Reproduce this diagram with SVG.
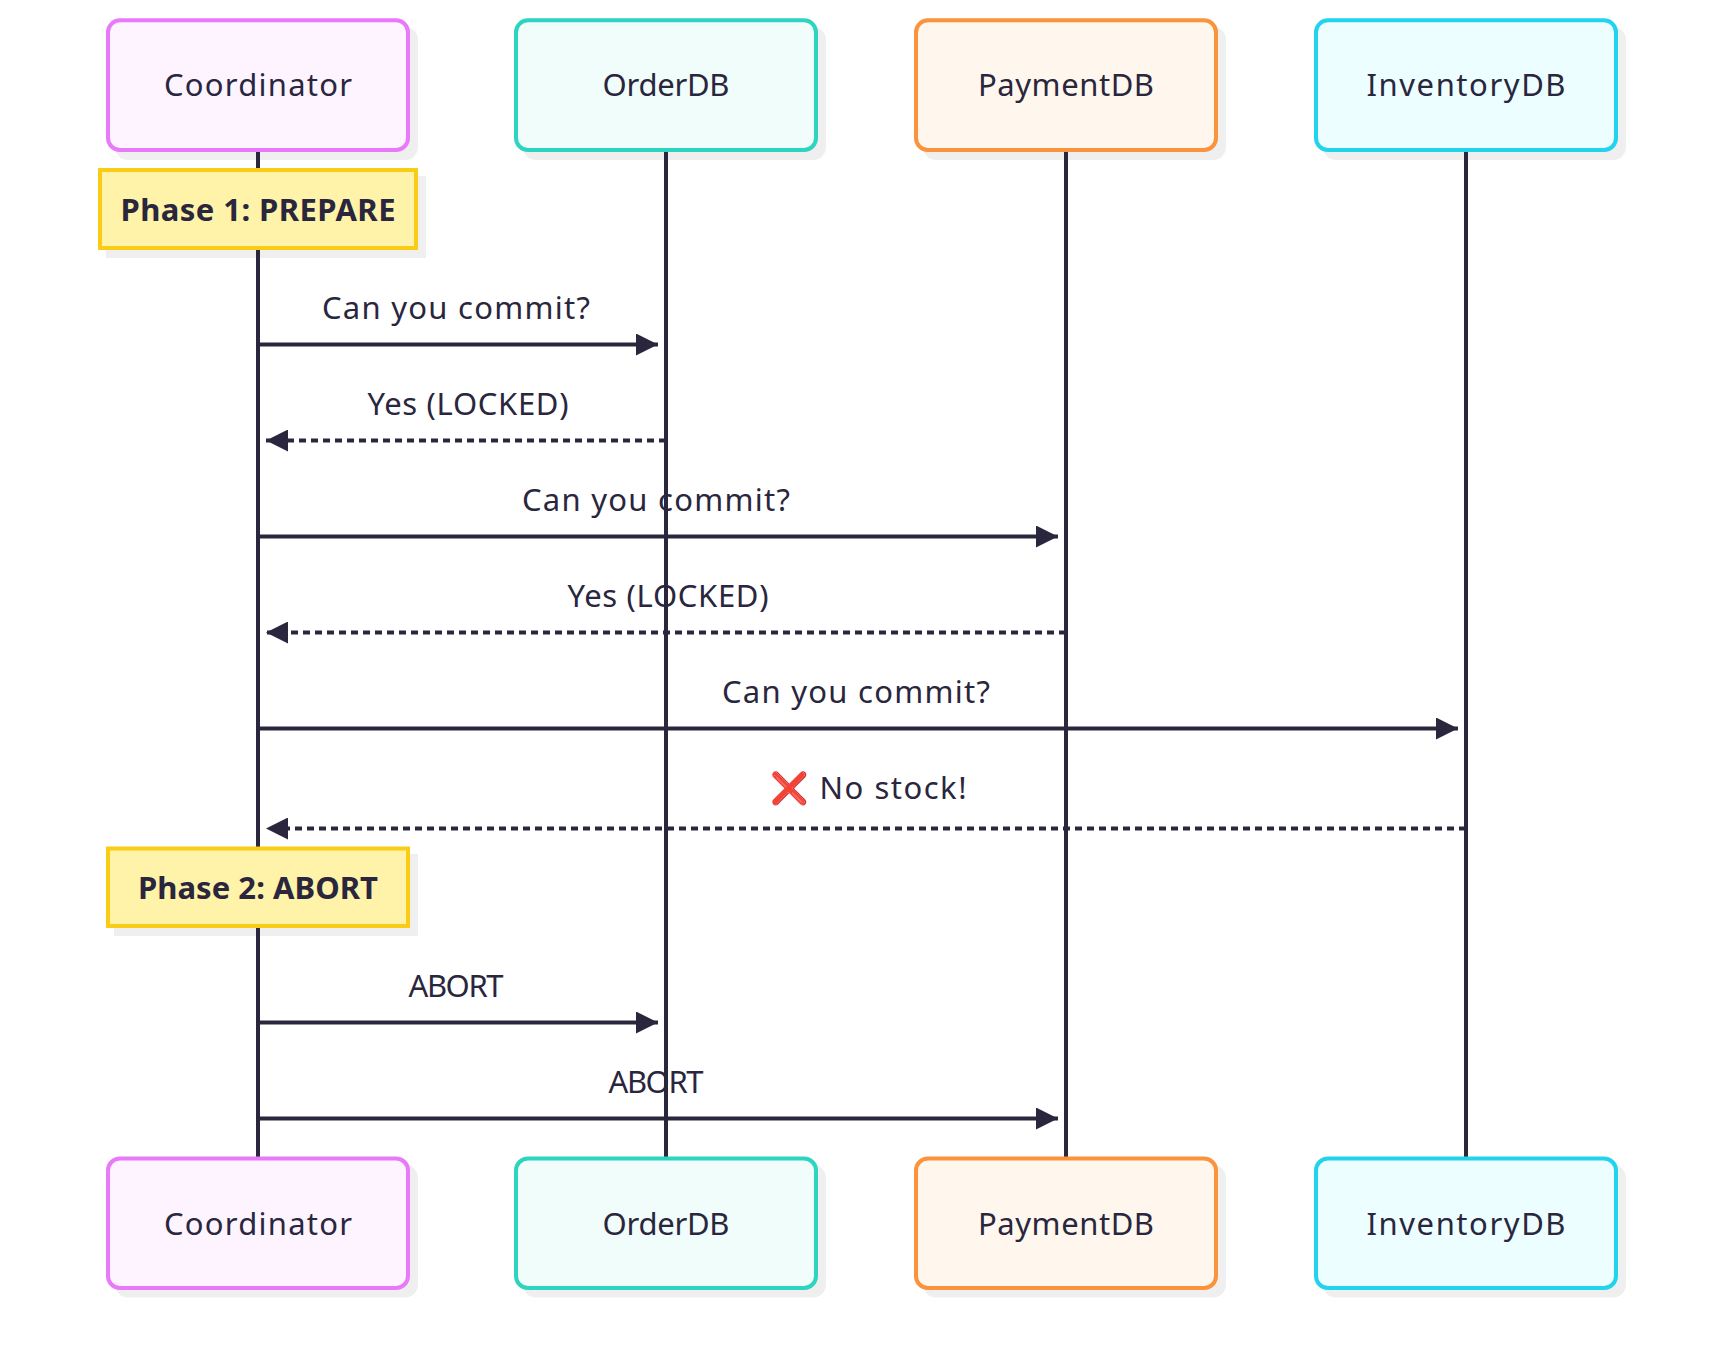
<svg xmlns="http://www.w3.org/2000/svg" width="1716" height="1370" viewBox="0 0 1716 1370">
<style>
text{font-family:"Noto Sans","Open Sans",sans-serif;fill:#29263d;text-anchor:middle;font-size:31px}
.b{font-weight:700}
.box{stroke-width:4;rx:12px}
.sh{fill:#efefef}
.life,.msg,.dash{stroke:#29263d;fill:none}
.life{stroke-width:4}
.msg,.dash{stroke-width:4}
.dash{stroke-dasharray:7 5}
.note{fill:#fef3a8;stroke:#facc15;stroke-width:4}
.c1{fill:#fdf4ff;stroke:#e879f9}.c2{fill:#f0fdfa;stroke:#2dd4bf}.c3{fill:#fff7ed;stroke:#fb923c}.c4{fill:#ecfeff;stroke:#22d3ee}
</style>
<defs>
<marker id="a" markerUnits="userSpaceOnUse" markerWidth="22" markerHeight="22" refX="22" refY="11" orient="auto"><path d="M0 0L22 11L0 22z" fill="#29263d"/></marker>
</defs>
<g id="shadows">
<rect class="sh" x="115" y="27" width="303" height="133" rx="13"/><rect class="sh" x="523" y="27" width="303" height="133" rx="13"/><rect class="sh" x="923" y="27" width="303" height="133" rx="13"/><rect class="sh" x="1323" y="27" width="303" height="133" rx="13"/>
<rect class="sh" x="106" y="176" width="320" height="82"/><rect class="sh" x="114" y="854" width="304" height="82"/>
<rect class="sh" x="115" y="1165" width="303" height="132.500" rx="13"/><rect class="sh" x="523" y="1165" width="303" height="132.500" rx="13"/><rect class="sh" x="923" y="1165" width="303" height="132.500" rx="13"/><rect class="sh" x="1323" y="1165" width="303" height="132.500" rx="13"/>
</g>
<g id="lifelines">
<path class="life" d="M258 150V1159M666 150V1159M1066 150V1159M1466 150V1159"/>
</g>
<g id="top-coordinator"><rect class="box c1" x="108" y="20.300" width="300" height="129.700"/><text x="258" y="96" textLength="188">Coordinator</text></g>
<g id="top-orderdb"><rect class="box c2" x="516" y="20.300" width="300" height="129.700"/><text x="666" y="96" textLength="127">OrderDB</text></g>
<g id="top-paymentdb"><rect class="box c3" x="916" y="20.300" width="300" height="129.700"/><text x="1066" y="96" textLength="176">PaymentDB</text></g>
<g id="top-inventorydb"><rect class="box c4" x="1316" y="20.300" width="300" height="129.700"/><text x="1466" y="96" textLength="199">InventoryDB</text></g>
<g id="note-phase1"><rect class="note" x="100" y="170" width="316" height="78"/><text class="b" x="258" y="221" textLength="275">Phase 1: PREPARE</text></g>
<g id="note-phase2"><rect class="note" x="108" y="848.500" width="300" height="77.500"/><text class="b" x="258" y="899" textLength="240">Phase 2: ABORT</text></g>
<g id="connectors">
<path class="msg" marker-end="url(#a)" d="M258 344.500H658"/>
<path class="dash" marker-end="url(#a)" d="M666 440.500H266"/>
<path class="msg" marker-end="url(#a)" d="M258 536.500H1058"/>
<path class="dash" marker-end="url(#a)" d="M1066 632.500H266"/>
<path class="msg" marker-end="url(#a)" d="M258 728.500H1458"/>
<path class="dash" marker-end="url(#a)" d="M1466 828.500H266"/>
<path class="msg" marker-end="url(#a)" d="M258 1022.500H658"/>
<path class="msg" marker-end="url(#a)" d="M258 1118.500H1058"/>
<text x="456" y="319" textLength="268">Can you commit?</text>
<text x="468" y="415" textLength="201">Yes (LOCKED)</text>
<text x="656" y="511" textLength="268">Can you commit?</text>
<text x="668" y="607" textLength="201">Yes (LOCKED)</text>
<text x="856" y="703" textLength="268">Can you commit?</text>
<text x="868" y="799" textLength="197">❌ No stock!</text>
<text x="456" y="997" textLength="95">ABORT</text>
<text x="656" y="1093" textLength="95">ABORT</text>
</g>
<g id="bottom-coordinator"><rect class="box c1" x="108" y="1158.500" width="300" height="129.500"/><text x="258" y="1234.500" textLength="188">Coordinator</text></g>
<g id="bottom-orderdb"><rect class="box c2" x="516" y="1158.500" width="300" height="129.500"/><text x="666" y="1234.500" textLength="127">OrderDB</text></g>
<g id="bottom-paymentdb"><rect class="box c3" x="916" y="1158.500" width="300" height="129.500"/><text x="1066" y="1234.500" textLength="176">PaymentDB</text></g>
<g id="bottom-inventorydb"><rect class="box c4" x="1316" y="1158.500" width="300" height="129.500"/><text x="1466" y="1234.500" textLength="199">InventoryDB</text></g>
</svg>
